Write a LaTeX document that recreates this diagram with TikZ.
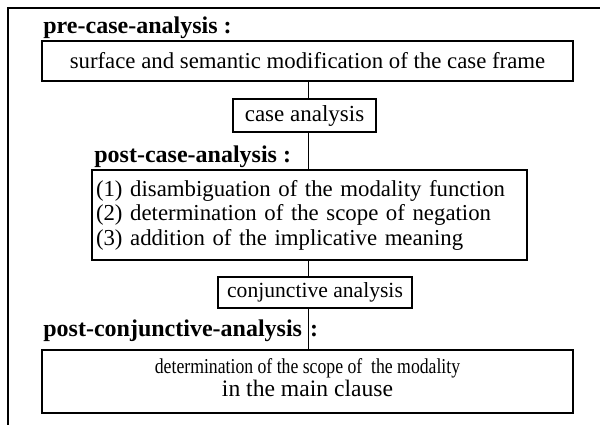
\documentclass[tikz,border=0pt]{standalone}
\usepackage{graphicx}
\usepackage{fontspec}
\setmainfont{Liberation Serif}
\begin{document}
\begin{tikzpicture}[x=0.5pt,y=-0.5pt,
  thickbox/.style={draw,line width=1.4pt,inner sep=0pt,font=\fontsize{11.4}{12.25}\selectfont},
  thinbox/.style={draw,line width=0.9pt,inner sep=0pt,font=\fontsize{11.5}{12.5}\selectfont},
  lbl/.style={anchor=west,inner sep=0pt,font=\fontsize{12}{13}\selectfont\bfseries},
  conn/.style={line width=0.5pt},
  frame/.style={line width=0.55pt}]
\useasboundingbox (0,0) rectangle (600,425);
\coordinate (ftr) at (600,8);
\coordinate (ftl) at (8,8);
\coordinate (fbl) at (8,425);
\coordinate (sp) at (308,0);
\draw[frame] (ftr) -- (ftl) -- (fbl);
\node[lbl] (l1) at (43,28) {pre-case-analysis :};
\node[thickbox,minimum width=265.5pt,minimum height=20pt] (b1) at (307.5,61) {surface and semantic modification of the case frame};
\node[thinbox,minimum width=71.5pt,minimum height=16.5pt] (b2) at (304.5,115.5) {case analysis};
\node[lbl] (l2) at (94,157) {post-case-analysis :};
\node[thickbox,minimum width=217.5pt,minimum height=45pt,text width=213.5pt,inner xsep=2pt,align=left] (b3) at (309.5,215)
  {(1) disambiguation of the modality function\\(2) determination of the scope of negation\\(3) addition of the implicative meaning};
\node[thinbox,minimum width=97pt,minimum height=15.5pt,font=\fontsize{10.8}{12}\selectfont] (b4) at (315,292.5) {conjunctive analysis};
\node[lbl] (l3) at (43,331) {post-conjunctive-analysis\hspace{4pt}:};
\node[thickbox,minimum width=265.5pt,minimum height=31.5pt] (b5) at (307.5,381.5) {};
\node[inner sep=0pt,align=center,font=\fontsize{11.8}{10.4}\selectfont] (t5) at (307.5,378)
  {\scalebox{0.75}[0.9]{determination of the scope of \ the modality}\\in the main clause};
\draw[conn] (b1.south -| sp) -- (b2.north -| sp);
\draw[conn] (b2.south -| sp) -- (b3.north -| sp);
\draw[conn] (b3.south -| sp) -- (b4.north -| sp);
\draw[conn] (b4.south -| sp) -- (b5.north -| sp);
\end{tikzpicture}
\end{document}
